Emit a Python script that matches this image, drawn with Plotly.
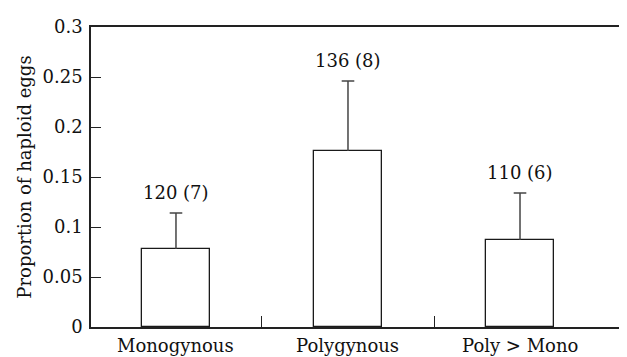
import plotly.graph_objects as go

categories = ["Monogynous", "Polygynous", "Poly > Mono"]
proportions = [0.078, 0.176, 0.087]
errors = [0.036, 0.070, 0.047]
labels = ["120 (7)", "136 (8)", "110 (6)"]
label_y = [0.135, 0.267, 0.155]
y_ticks = [0, 0.05, 0.1, 0.15, 0.2, 0.25, 0.3]
y_ticktext = ["0", "0.05", "0.1", "0.15", "0.2", "0.25", "0.3"]

FONT = "DejaVu Serif"
FS = 18
x = list(range(len(categories)))
err_tops = [p + e for p, e in zip(proportions, errors)]

fig = go.Figure()
fig.add_trace(go.Bar(
    x=x, y=proportions, width=0.4,
    marker=dict(color="white", line=dict(color="#1a1a1a", width=1.3)),
    error_y=dict(type="data", array=errors, arrayminus=[0]*3, visible=True,
                 color="#444444", thickness=1.5, width=0),
    showlegend=False,
))
# upper caps of the error bars only
fig.add_trace(go.Scatter(
    x=x, y=err_tops, mode="markers",
    marker=dict(symbol="line-ew", size=9, line=dict(color="#444444", width=1.5)),
    showlegend=False, hoverinfo="skip",
))
for xi, t, ly in zip(x, labels, label_y):
    fig.add_annotation(x=xi, y=ly, text=t, showarrow=False,
                       font=dict(family=FONT, size=FS, color="#111"))
for xi, c in zip(x, categories):
    fig.add_annotation(x=xi, y=0, yref="y", text=c, showarrow=False,
                       yanchor="middle", yshift=-18,
                       font=dict(family=FONT, size=FS, color="#111"))

# page body has an ~8px margin; compensate so the plot lands where the reference has it
fig.update_layout(
    width=627, height=357,
    margin=dict(l=83, r=8, t=12, b=38),
    plot_bgcolor="white", paper_bgcolor="white",
    font=dict(family=FONT, size=FS, color="#111"),
    bargap=0,
)
fig.update_xaxes(
    range=[-0.494, 2.622], tickvals=x, showticklabels=False, ticks="",
    showline=True, linecolor="#222", linewidth=1.6, mirror=True,
    showgrid=False, zeroline=False,
    minor=dict(tickvals=[0.5, 1.5], ticks="inside", ticklen=11,
               tickcolor="#222", tickwidth=1.3, showgrid=False),
)
fig.update_yaxes(
    range=[0, 0.3], tickvals=y_ticks, ticktext=y_ticktext,
    ticks="inside", ticklen=10, tickcolor="#222", tickwidth=1.3,
    showline=True, linecolor="#222", linewidth=1.6, mirror=False,
    showgrid=False, zeroline=False, ticklabelstandoff=3,
    title=dict(text="Proportion of haploid eggs", font=dict(family=FONT, size=FS), standoff=6),
)
fig.write_html("out.html")
